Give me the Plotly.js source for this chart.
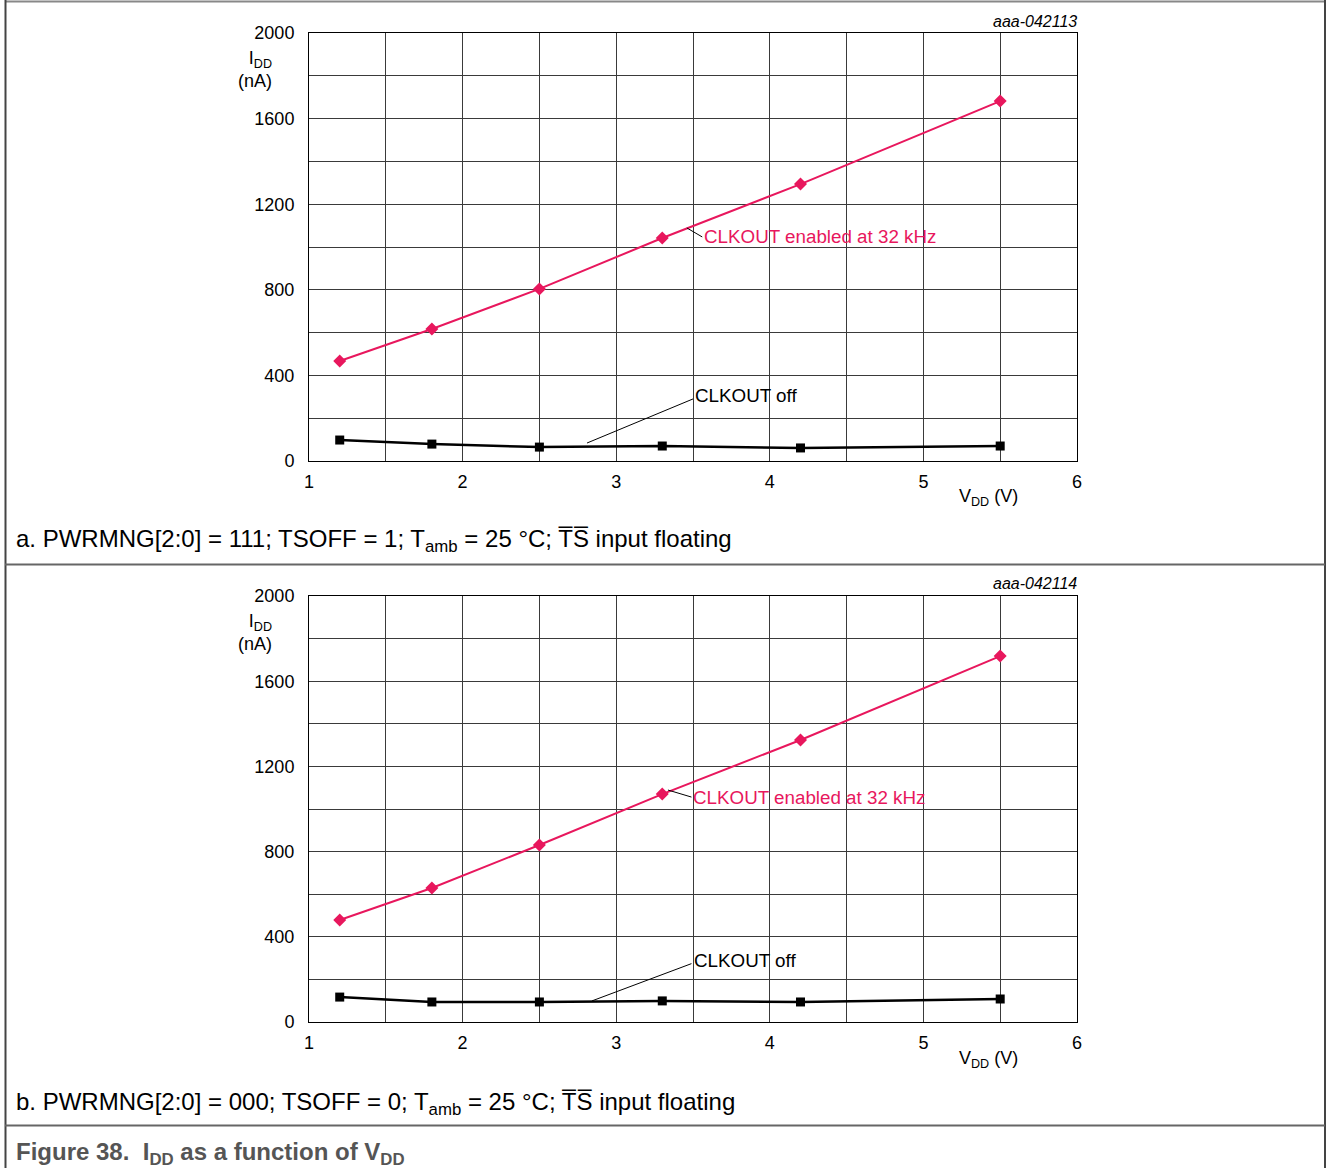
<!DOCTYPE html>
<html>
<head>
<meta charset="utf-8">
<script src="https://cdn.plot.ly/plotly-3.0.1.min.js"></script>
<style>html,body{margin:0;padding:0;background:#fff;}#chart{width:1326px;height:1168px;}</style>
</head>
<body>
<div id="chart"></div>
<script>
// Data
const vdd = [1.2, 1.8, 2.5, 3.3, 4.2, 5.5];
const idd_a_clkout_on = [467, 617, 804, 1042, 1294, 1682];
const idd_a_clkout_off = [98, 79, 65, 70, 61, 70];
const idd_b_clkout_on = [479, 629, 831, 1070, 1324, 1718];
const idd_b_clkout_off = [117, 94, 94, 99, 94, 108];
const xTicks = [1, 2, 3, 4, 5, 6];
const yTicks = [0, 400, 800, 1200, 1600, 2000];
const labelOn = 'CLKOUT enabled at 32 kHz';
const labelOff = 'CLKOUT off';
const captionA = 'a. PWRMNG[2:0] = 111; TSOFF = 1; T<sub>amb</sub> = 25 °C; T\u0305S\u0305 input floating';
const captionB = 'b. PWRMNG[2:0] = 000; TSOFF = 0; T<sub>amb</sub> = 25 °C; T\u0305S\u0305 input floating';
const figTitle = '<b>Figure 38.  I<sub>DD</sub> as a function of V<sub>DD</sub></b>';
const codeA = 'aaa-042113', codeB = 'aaa-042114';

const RED = '#e8175d';
const FONT = 'Liberation Sans, Arial, sans-serif';

function series(x, y, yaxis, color, symbol, width) {
  return {x: x, y: y, xaxis: yaxis === 'y' ? 'x' : 'x2', yaxis: yaxis, type: 'scatter', mode: 'lines+markers',
    line: {color: color, width: width}, marker: {symbol: symbol, size: symbol === 'square' ? 9 : 10, color: color},
    showlegend: false, hoverinfo: 'skip'};
}
const traces = [
  series(vdd, idd_a_clkout_off, 'y', '#000', 'square', 2.5),
  series(vdd, idd_a_clkout_on, 'y', RED, 'diamond', 2),
  series(vdd, idd_b_clkout_off, 'y2', '#000', 'square', 2.5),
  series(vdd, idd_b_clkout_on, 'y2', RED, 'diamond', 2)
];

function xax(anchor) {
  return {domain: [309/1326, 1077/1326], range: [1, 6], tickvals: xTicks, ticks: '', anchor: anchor,
    showgrid: true, gridcolor: '#3a3a3a', gridwidth: 1,
    showline: true, linecolor: '#000', linewidth: 1, mirror: true, zeroline: false,
    tickfont: {family: FONT, size: 18, color: '#000'}, ticklabelstandoff: 4,
    minor: {dtick: 0.5, tick0: 1, showgrid: true, gridcolor: '#3a3a3a', gridwidth: 1}};
}
function yax(anchor, d0, d1) {
  return {domain: [d0, d1], range: [0, 2000], tickvals: yTicks, ticks: '', anchor: anchor,
    showgrid: true, gridcolor: '#3a3a3a', gridwidth: 1,
    showline: true, linecolor: '#000', linewidth: 1, mirror: true, zeroline: false,
    tickfont: {family: FONT, size: 18, color: '#000'}, ticklabelstandoff: 10,
    minor: {dtick: 200, tick0: 0, showgrid: true, gridcolor: '#3a3a3a', gridwidth: 1}};
}

function leaderShape(xr, yr, x0, y0, x1, y1) {
  return {type: 'line', xref: xr, yref: yr, x0: x0, y0: y0, x1: x1, y1: y1, line: {color: '#000', width: 1}};
}
function label(xr, yr, x, y, text, color) {
  return {xref: xr, yref: yr, x: x, y: y, text: text, showarrow: false, xanchor: 'left', yanchor: 'middle',
    font: {family: FONT, size: 18.8, color: color}};
}

function P(px) { return px / 1326; }
function Q(py) { return 1 - py / 1168; }

const annotations = [
  label('x', 'y', 3.56, 1047, labelOn, RED),
  label('x', 'y', 3.50, 308, labelOff, '#000'),
  label('x2', 'y2', 3.49, 1056, labelOn, RED),
  label('x2', 'y2', 3.495, 291, labelOff, '#000'),
  {xref: 'paper', yref: 'paper', x: P(274), y: Q(46), xanchor: 'right', yanchor: 'top', align: 'right', showarrow: false,
    text: 'I<sub>DD</sub><br>(nA)', font: {family: FONT, size: 18, color: '#000'}},
  {xref: 'paper', yref: 'paper', x: P(274), y: Q(609), xanchor: 'right', yanchor: 'top', align: 'right', showarrow: false,
    text: 'I<sub>DD</sub><br>(nA)', font: {family: FONT, size: 18, color: '#000'}},
  {xref: 'paper', yref: 'paper', x: P(957), y: Q(497), xanchor: 'left', yanchor: 'middle', showarrow: false,
    text: 'V<sub>DD</sub> (V)', font: {family: FONT, size: 18, color: '#000'}},
  {xref: 'paper', yref: 'paper', x: P(957), y: Q(1059), xanchor: 'left', yanchor: 'middle', showarrow: false,
    text: 'V<sub>DD</sub> (V)', font: {family: FONT, size: 18, color: '#000'}},
  {xref: 'paper', yref: 'paper', x: P(1079), y: Q(21), xanchor: 'right', yanchor: 'middle', showarrow: false,
    text: '<i>' + codeA + '</i>', font: {family: FONT, size: 16, color: '#000'}},
  {xref: 'paper', yref: 'paper', x: P(1079), y: Q(583), xanchor: 'right', yanchor: 'middle', showarrow: false,
    text: '<i>' + codeB + '</i>', font: {family: FONT, size: 16, color: '#000'}},
  {xref: 'paper', yref: 'paper', x: P(14), y: Q(541), xanchor: 'left', yanchor: 'middle', showarrow: false,
    text: captionA, font: {family: FONT, size: 24, color: '#000'}},
  {xref: 'paper', yref: 'paper', x: P(14), y: Q(1103), xanchor: 'left', yanchor: 'middle', showarrow: false,
    text: captionB, font: {family: FONT, size: 24, color: '#000'}},
  {xref: 'paper', yref: 'paper', x: P(14), y: Q(1153), xanchor: 'left', yanchor: 'middle', showarrow: false,
    text: figTitle, font: {family: FONT, size: 24, color: '#555'}}
];

const shapes = [
  leaderShape('x', 'y', 3.46, 1089, 3.56, 1047),
  leaderShape('x', 'y', 2.81, 84, 3.50, 290),
  leaderShape('x2', 'y2', 3.337, 1089, 3.49, 1056),
  leaderShape('x2', 'y2', 2.842, 99, 3.49, 274),
  {type: 'line', xref: 'paper', yref: 'paper', x0: P(5), x1: P(1325), y0: Q(1.5), y1: Q(1.5), line: {color: '#888', width: 2}},
  {type: 'line', xref: 'paper', yref: 'paper', x0: P(5.5), x1: P(5.5), y0: Q(0), y1: Q(1168), line: {color: '#444', width: 2}},
  {type: 'line', xref: 'paper', yref: 'paper', x0: P(1325), x1: P(1325), y0: Q(0), y1: Q(1168), line: {color: '#444', width: 2}},
  {type: 'line', xref: 'paper', yref: 'paper', x0: P(5), x1: P(1325), y0: Q(564.5), y1: Q(564.5), line: {color: '#666', width: 2}},
  {type: 'line', xref: 'paper', yref: 'paper', x0: P(5), x1: P(1325), y0: Q(1125.5), y1: Q(1125.5), line: {color: '#666', width: 2}}
];

const layout = {
  width: 1326, height: 1168, margin: {l: 0, r: 0, t: 0, b: 0},
  paper_bgcolor: '#fff', plot_bgcolor: '#fff',
  font: {family: FONT},
  showlegend: false,
  xaxis: xax('y'),
  yaxis: yax('x', 1 - 461/1168, 1 - 33/1168),
  xaxis2: xax('y2'),
  yaxis2: yax('x2', 1 - 1022/1168, 1 - 596/1168),
  annotations: annotations,
  shapes: shapes
};

Plotly.newPlot('chart', traces, layout, {staticPlot: true, displayModeBar: false});
</script>
</body>
</html>
